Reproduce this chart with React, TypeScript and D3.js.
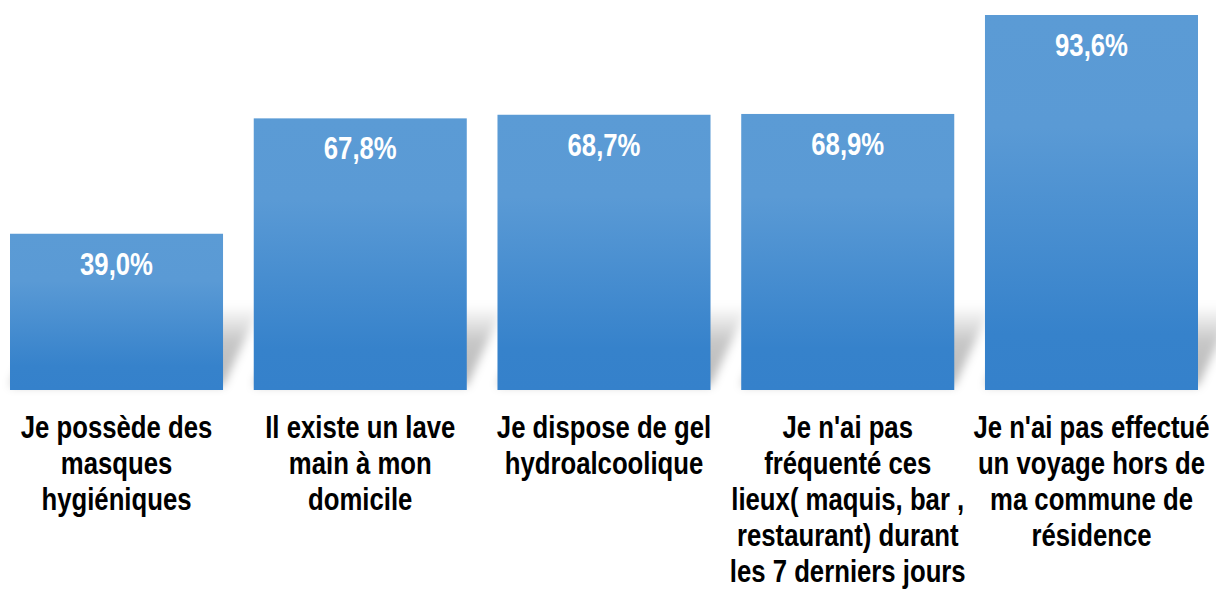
import React from "react";
import * as d3 from "d3";

const categories: string[][] = [
  ["Je possède des", "masques", "hygiéniques"],
  ["Il existe un lave", "main à mon", "domicile"],
  ["Je dispose de gel", "hydroalcoolique"],
  ["Je n'ai pas", "fréquenté ces", "lieux( maquis, bar ,", "restaurant) durant", "les 7 derniers jours"],
  ["Je n'ai pas effectué", "un voyage hors de", "ma commune de", "résidence"],
];
const values: number[] = [39.0, 67.8, 68.7, 68.9, 93.6];
const valueLabels: string[] = ["39,0%", "67,8%", "68,7%", "68,9%", "93,6%"];

const W = 1216;
const H = 590;
const FONT = "'Liberation Sans', Arial, sans-serif";
const SX = 0.83;

export default function App() {
  const ids = categories.map((_, i) => String(i));
  const x = d3.scaleBand<string>().domain(ids).range([10, 1198]).paddingInner(0.126).paddingOuter(0);
  const y = d3.scaleLinear().domain([0, 93.6]).range([390, 15]);
  const bw = x.bandwidth();
  const base = y(0);

  return (
    <svg width={W} height={H} style={{ position: "absolute", left: 0, top: 0, background: "#fff" }}>
      <defs>
        <linearGradient id="barGrad" x1="0" y1="0" x2="0" y2="1">
          <stop offset="0%" stopColor="#5B9BD5" />
          <stop offset="30%" stopColor="#5A9AD5" />
          <stop offset="85%" stopColor="#3682CB" />
          <stop offset="100%" stopColor="#3581CB" />
        </linearGradient>
        <linearGradient id="shGrad" x1="0" y1="0" x2="0" y2="1">
          <stop offset="0%" stopColor="#000" stopOpacity="0" />
          <stop offset="45%" stopColor="#000" stopOpacity="0.22" />
          <stop offset="100%" stopColor="#000" stopOpacity="0.28" />
        </linearGradient>
        <filter id="blur" x="-20%" y="-50%" width="140%" height="200%">
          <feGaussianBlur stdDeviation="5" />
        </filter>
      </defs>
      {ids.map((id, i) => {
        const x0 = x(id)!;
        const x1 = x0 + bw;
        const top = base - 85;
        const dx = 38;
        const pts = `${x0},${base - 4} ${x1},${base - 4} ${x1 + dx},${top} ${x0 + dx},${top}`;
        return <polygon key={"s" + i} points={pts} fill="url(#shGrad)" filter="url(#blur)" />;
      })}
      {ids.map((id, i) => (
        <rect key={"b" + i} x={x(id)} y={y(values[i])} width={bw} height={base - y(values[i])} fill="url(#barGrad)" />
      ))}
      {ids.map((id, i) => (
        <text
          key={"v" + i}
          transform={`translate(${x(id)! + bw / 2},${y(values[i]) + 41}) scale(${SX},1)`}
          x={0}
          y={0}
          textAnchor="middle"
          fill="#fff"
          fontFamily={FONT}
          fontWeight="bold"
          fontSize={31}
        >
          {valueLabels[i]}
        </text>
      ))}
      {ids.map((id, i) => (
        <text
          key={"c" + i}
          transform={`translate(${x(id)! + bw / 2},0) scale(${SX},1)`}
          textAnchor="middle"
          fill="#000"
          fontFamily={FONT}
          fontWeight="bold"
          fontSize={31}
        >
          {categories[i].map((line, j) => (
            <tspan key={j} x={0} y={438 + j * 36}>
              {line}
            </tspan>
          ))}
        </text>
      ))}
    </svg>
  );
}
